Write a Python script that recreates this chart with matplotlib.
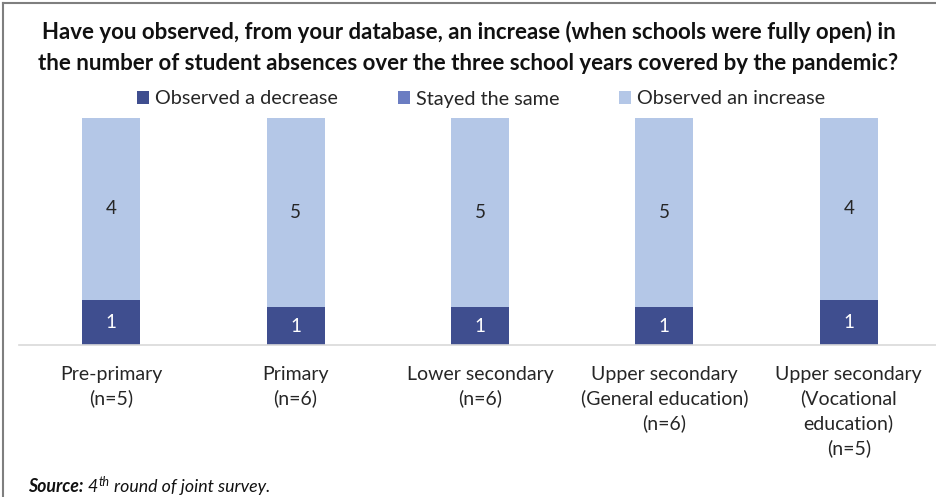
import matplotlib.pyplot as plt
from matplotlib.patches import Patch
from matplotlib.lines import Line2D
import numpy as np

plt.rcParams['font.family'] = ['Lato', 'DejaVu Sans']

categories = ['Pre-primary\n(n=5)', 'Primary\n(n=6)', 'Lower secondary\n(n=6)',
              'Upper secondary\n(General education)\n(n=6)',
              'Upper secondary\n(Vocational\neducation)\n(n=5)']
decrease = [1, 1, 1, 1, 1]
same = [0, 0, 0, 0, 0]
increase = [4, 5, 5, 5, 4]

series_names = ['Observed a decrease', 'Stayed the same', 'Observed an increase']
colors = ['#3F4E8F', '#6B7DC2', '#B4C7E7']

counts = np.array([decrease, same, increase], dtype=float)
totals = counts.sum(axis=0)
shares = counts / totals

fig = plt.figure(figsize=(9.37, 4.97), dpi=100)
W, H = 937, 497
ax = fig.add_axes([19 / W, 1 - 345 / H, 922 / W, 227 / H])

x = np.arange(len(categories))
bottom = np.zeros(len(categories))
for i, (name, col) in enumerate(zip(series_names, colors)):
    ax.bar(x, shares[i], 0.315, bottom=bottom, color=col, label=name)
    for j in range(len(categories)):
        if counts[i, j] > 0:
            txt_col = 'white' if i == 0 else '#262626'
            ax.text(x[j], bottom[j] + shares[i, j] / 2, f'{int(counts[i, j])}',
                    ha='center', va='center', fontsize=13.5, color=txt_col)
    bottom += shares[i]

ax.set_xlim(-0.5, 4.5)
ax.set_ylim(0, 1)
ax.set_yticks([])
for s in ['top', 'right', 'left']:
    ax.spines[s].set_visible(False)
ax.spines['bottom'].set_color('#D9D9D9')
ax.spines['bottom'].set_linewidth(1.2)
ax.set_xticks(x)
ax.set_xticklabels(categories, fontsize=14, color='#262626', linespacing=1.46)
ax.tick_params(axis='x', length=0, pad=15)

fig.text(0.5, 1 - 47.5 / H,
         'Have you observed, from your database, an increase (when schools were fully open) in\n'
         'the number of student absences over the three school years covered by the pandemic?',
         ha='center', va='center', fontsize=16, fontweight='bold', color='#111111',
         linespacing=1.62)

handles = [Patch(facecolor=c, edgecolor='none') for c in colors]
fig.legend(handles, series_names, loc='center', bbox_to_anchor=(481 / W, 1 - 99 / H),
           ncol=3, frameon=False, fontsize=14.3, handlelength=0.6, handleheight=0.6,
           handletextpad=0.3, columnspacing=3.0, labelcolor='#262626')

# source line: bold italic label followed by italic text with a superscript
ys = 1 - 487 / H
fs = 12.8
t1 = fig.text(28 / W, ys, 'Source:', fontsize=fs, va='center',
              fontweight='bold', fontstyle='italic', color='#111111')
fig.canvas.draw()
r = fig.canvas.get_renderer()
x2 = t1.get_window_extent(r).x1 + 4
t2 = fig.text(x2 / W, ys, '4', fontsize=fs, va='center', fontstyle='italic', color='#111111')
x3 = t2.get_window_extent(r).x1 + 1
t3 = fig.text(x3 / W, ys + 5 / H, 'th', fontsize=9, va='center', fontstyle='italic',
              color='#111111')
x4 = t3.get_window_extent(r).x1 + 4
fig.text(x4 / W, ys, 'round of joint survey.', fontsize=fs, va='center',
         fontstyle='italic', color='#111111')

# frame around the figure (top and left edges)
fig.add_artist(Line2D([3 / W, 1], [1 - 3 / H, 1 - 3 / H], transform=fig.transFigure,
                      color='#7F7F7F', lw=1.5))
fig.add_artist(Line2D([3 / W, 3 / W], [0, 1 - 3 / H], transform=fig.transFigure,
                      color='#7F7F7F', lw=1.5))

fig.savefig('out.png', dpi=100)
